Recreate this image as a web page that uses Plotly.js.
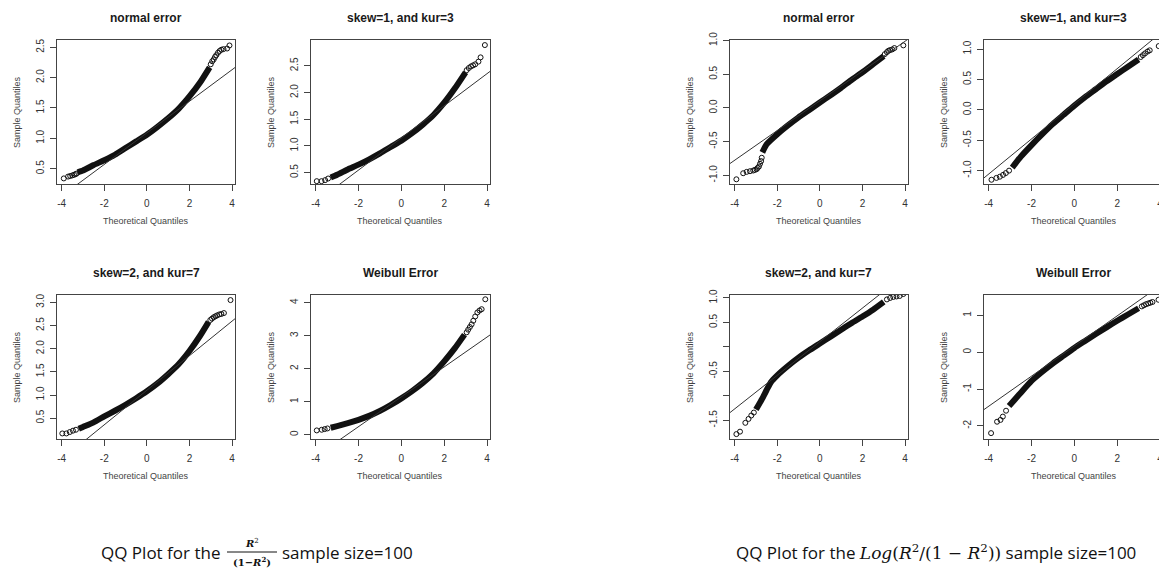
<!DOCTYPE html>
<html>
<head>
<meta charset="utf-8">
<script src="https://cdn.plot.ly/plotly-3.0.1.min.js"></script>
<style>
  html, body { margin: 0; padding: 0; overflow: hidden; background: #ffffff; }
  #chart { width: 1165px; height: 569px; }
</style>
</head>
<body>
<div id="chart"></div>
<script>
// ---------------- data ----------------
const panelTitles = [
  "normal error", "skew=1, and kur=3", "skew=2, and kur=7", "Weibull Error",
  "normal error", "skew=1, and kur=3", "skew=2, and kur=7", "Weibull Error"
];

const xTickVals = [-4, -2, 0, 2, 4];
const xTickText = ["-4", "-2", "0", "2", "4"];

// R^2/(1-R^2): normal error
const ratioNormBandX = [-3.25, -3.0, -2.5, -2.0, -1.5, -1.0, -0.5, 0, 0.5, 1.0, 1.5, 2.0, 2.5, 2.95];
const ratioNormBandY = [0.44, 0.47, 0.56, 0.64, 0.73, 0.84, 0.95, 1.06, 1.19, 1.33, 1.49, 1.69, 1.92, 2.17];
const ratioNormTailX = [-3.9, -3.7, -3.6, -3.5, -3.42, -3.35, -3.3, 3.0, 3.07, 3.14, 3.2, 3.26, 3.34, 3.42, 3.5, 3.6, 3.77, 3.88];
const ratioNormTailY = [0.34, 0.37, 0.38, 0.39, 0.40, 0.41, 0.42, 2.22, 2.27, 2.30, 2.34, 2.37, 2.41, 2.44, 2.46, 2.47, 2.48, 2.53];

// R^2/(1-R^2): skew=1, kur=3
const ratioSk1BandX = [-3.3, -3.0, -2.5, -2.0, -1.5, -1.0, -0.5, 0, 0.5, 1.0, 1.5, 2.0, 2.5, 3.0];
const ratioSk1BandY = [0.41, 0.46, 0.56, 0.65, 0.75, 0.86, 0.98, 1.10, 1.24, 1.40, 1.58, 1.81, 2.08, 2.38];
const ratioSk1TailX = [-3.95, -3.73, -3.56, -3.42, 3.05, 3.15, 3.25, 3.35, 3.45, 3.6, 3.7, 3.9];
const ratioSk1TailY = [0.34, 0.34, 0.36, 0.39, 2.42, 2.46, 2.49, 2.51, 2.53, 2.58, 2.66, 2.89];

// R^2/(1-R^2): skew=2, kur=7
const ratioSk2BandX = [-3.2, -3.0, -2.5, -2.0, -1.5, -1.0, -0.5, 0, 0.5, 1.0, 1.5, 2.0, 2.5, 2.9];
const ratioSk2BandY = [0.27, 0.31, 0.41, 0.54, 0.66, 0.79, 0.93, 1.08, 1.25, 1.45, 1.67, 1.95, 2.28, 2.58];
const ratioSk2TailX = [-3.97, -3.78, -3.62, -3.47, -3.33, 2.98, 3.06, 3.14, 3.22, 3.3, 3.4, 3.5, 3.62, 3.93];
const ratioSk2TailY = [0.17, 0.17, 0.20, 0.23, 0.25, 2.62, 2.65, 2.68, 2.70, 2.72, 2.74, 2.75, 2.77, 3.05];

// R^2/(1-R^2): Weibull error
const ratioWeiBandX = [-3.3, -3.0, -2.5, -2.0, -1.5, -1.0, -0.5, 0, 0.5, 1.0, 1.5, 2.0, 2.5, 2.95];
const ratioWeiBandY = [0.21, 0.26, 0.35, 0.45, 0.57, 0.72, 0.90, 1.10, 1.32, 1.57, 1.86, 2.22, 2.62, 3.03];
const ratioWeiTailX = [-3.95, -3.72, -3.58, -3.45, 3.05, 3.12, 3.2, 3.28, 3.36, 3.45, 3.55, 3.65, 3.75, 3.92];
const ratioWeiTailY = [0.13, 0.15, 0.17, 0.19, 3.10, 3.18, 3.26, 3.34, 3.45, 3.58, 3.70, 3.76, 3.80, 4.10];

// Log(R^2/(1-R^2)): normal error
const logNormBandX = [-2.7, -2.5, -2.0, -1.5, -1.0, -0.5, 0, 0.5, 1.0, 1.5, 2.0, 2.5, 3.0];
const logNormBandY = [-0.66, -0.54, -0.39, -0.26, -0.14, -0.03, 0.08, 0.19, 0.30, 0.42, 0.53, 0.65, 0.77];
const logNormTailX = [-3.92, -3.6, -3.44, -3.28, -3.13, -3.05, -2.97, -2.92, -2.86, -2.81, -2.76, -2.73, 3.05, 3.15, 3.22, 3.3, 3.4, 3.5, 3.92];
const logNormTailY = [-1.06, -0.97, -0.95, -0.94, -0.93, -0.92, -0.91, -0.89, -0.87, -0.83, -0.79, -0.74, 0.80, 0.83, 0.85, 0.86, 0.87, 0.89, 0.93];

// Log(R^2/(1-R^2)): skew=1, kur=3
const logSk1BandX = [-2.9, -2.5, -2.0, -1.5, -1.0, -0.5, 0, 0.5, 1.0, 1.5, 2.0, 2.5, 3.0];
const logSk1BandY = [-0.95, -0.77, -0.58, -0.40, -0.23, -0.08, 0.07, 0.21, 0.34, 0.47, 0.59, 0.71, 0.83];
const logSk1TailX = [-3.87, -3.64, -3.48, -3.33, -3.2, -3.05, 3.1, 3.2, 3.3, 3.42, 3.52, 3.94];
const logSk1TailY = [-1.15, -1.12, -1.10, -1.07, -1.04, -1.0, 0.87, 0.90, 0.93, 0.96, 0.98, 1.05];

// Log(R^2/(1-R^2)): skew=2, kur=7
const logSk2BandX = [-3.0, -2.7, -2.5, -2.3, -2.0, -1.5, -1.0, -0.5, 0, 0.5, 1.0, 1.5, 2.0, 2.5, 3.0];
const logSk2BandY = [-1.28, -1.05, -0.88, -0.72, -0.58, -0.39, -0.22, -0.07, 0.07, 0.21, 0.35, 0.49, 0.62, 0.76, 0.92];
const logSk2TailX = [-3.92, -3.75, -3.5, -3.35, -3.22, -3.1, 3.15, 3.3, 3.45, 3.6, 3.75, 3.92];
const logSk2TailY = [-1.78, -1.73, -1.55, -1.47, -1.40, -1.34, 0.97, 1.0, 1.02, 1.03, 1.04, 1.08];

// Log(R^2/(1-R^2)): Weibull error
const logWeiBandX = [-3.05, -2.7, -2.5, -2.0, -1.5, -1.0, -0.5, 0, 0.5, 1.0, 1.5, 2.0, 2.5, 3.0];
const logWeiBandY = [-1.46, -1.23, -1.10, -0.78, -0.53, -0.30, -0.09, 0.12, 0.31, 0.50, 0.68, 0.86, 1.03, 1.20];
const logWeiTailX = [-3.89, -3.61, -3.45, -3.34, -3.19, 3.15, 3.25, 3.35, 3.45, 3.55, 3.65, 3.93];
const logWeiTailY = [-2.2, -1.89, -1.84, -1.75, -1.59, 1.25, 1.28, 1.31, 1.33, 1.35, 1.37, 1.43];

// qqline parameters (intercept, slope) for each panel
const qqIntercept = [1.09, 1.15, 1.103, 1.148, 0.107, 0.10, 0.107, 0.172];
const qqSlope     = [0.26, 0.301, 0.373, 0.452, 0.221, 0.289, 0.343, 0.41];

// y axis ticks per panel (labelled ticks, plus unlabelled ones where labels would collide)
const yTickVals = [
  [0.5, 1.0, 1.5, 2.0, 2.5],
  [0.5, 1.0, 1.5, 2.0, 2.5],
  [0.5, 1.0, 1.5, 2.0, 2.5, 3.0],
  [0, 1, 2, 3, 4],
  [-1.0, -0.5, 0, 0.5, 1.0],
  [-1.0, -0.5, 0, 0.5, 1.0],
  [-1.5, -0.5, 0.5, 1.0],
  [-2, -1, 0, 1]
];
const yTickText = [
  ["0.5", "1.0", "1.5", "2.0", "2.5"],
  ["0.5", "1.0", "1.5", "2.0", "2.5"],
  ["0.5", "1.0", "1.5", "2.0", "2.5", "3.0"],
  ["0", "1", "2", "3", "4"],
  ["-1.0", "-0.5", "0.0", "0.5", "1.0"],
  ["-1.0", "-0.5", "0.0", "0.5", "1.0"],
  ["-1.5", "-0.5", "0.5", "1.0"],
  ["-2", "-1", "0", "1"]
];
const yBareTicks = [[], [], [], [], [], [], [-1.0, 0], []];

// ---------------- layout geometry (pixels) ----------------
const W = 1165, H = 569;
const yRanges = [
  [0.248, 2.62], [0.287, 2.985], [0.05, 3.16], [-0.13, 4.23],
  [-1.13, 1.01], [-1.22, 1.15], [-1.88, 1.06], [-2.36, 1.56]
];
const xRange = [-4.22, 4.14];
const boxes = [
  [57, 235, 40, 184], [311, 490, 40, 184], [57, 235, 295, 439], [311, 490, 295, 439],
  [730, 908, 40, 184], [984, 1163, 40, 184], [730, 908, 295, 439], [984, 1163, 295, 439]
];

const bands = [
  [ratioNormBandX, ratioNormBandY], [ratioSk1BandX, ratioSk1BandY],
  [ratioSk2BandX, ratioSk2BandY], [ratioWeiBandX, ratioWeiBandY],
  [logNormBandX, logNormBandY], [logSk1BandX, logSk1BandY],
  [logSk2BandX, logSk2BandY], [logWeiBandX, logWeiBandY]
];
const tails = [
  [ratioNormTailX, ratioNormTailY], [ratioSk1TailX, ratioSk1TailY],
  [ratioSk2TailX, ratioSk2TailY], [ratioWeiTailX, ratioWeiTailY],
  [logNormTailX, logNormTailY], [logSk1TailX, logSk1TailY],
  [logSk2TailX, logSk2TailY], [logWeiTailX, logWeiTailY]
];

const axisFont = { family: "Liberation Sans, Arial, sans-serif", size: 10, color: "#333" };
const traces = [];
const layout = {
  width: W, height: H,
  margin: { l: 0, r: 0, t: 0, b: 0 },
  paper_bgcolor: "#ffffff", plot_bgcolor: "#ffffff",
  showlegend: false,
  annotations: [],
  shapes: []
};

const px = v => v / W;
const py = v => 1 - v / H;

for (let i = 0; i < 8; i++) {
  const n = i === 0 ? "" : String(i + 1);
  const xa = "x" + n, ya = "y" + n;
  const [l, r, t, b] = boxes[i];

  // dense body of the sample quantiles
  traces.push({
    x: bands[i][0], y: bands[i][1], xaxis: xa, yaxis: ya,
    mode: "lines", hoverinfo: "skip",
    line: { color: "#111", width: 6, shape: "spline", smoothing: 0.5 }
  });
  // sparse tail observations
  traces.push({
    x: tails[i][0], y: tails[i][1], xaxis: xa, yaxis: ya,
    mode: "markers", hoverinfo: "skip", cliponaxis: true,
    marker: { symbol: "circle-open", size: 5, color: "#111", line: { width: 1, color: "#111" } }
  });
  // reference line through the quartiles
  traces.push({
    x: [-5, 5], y: [qqIntercept[i] - 5 * qqSlope[i], qqIntercept[i] + 5 * qqSlope[i]],
    xaxis: xa, yaxis: ya, mode: "lines", hoverinfo: "skip",
    line: { color: "#333", width: 1 }
  });

  layout["xaxis" + n] = {
    domain: [px(l), px(r)], range: xRange, anchor: ya,
    tickmode: "array", tickvals: xTickVals, ticktext: xTickText,
    ticks: "outside", ticklen: 6, tickwidth: 1, tickcolor: "#444",
    ticklabelstandoff: 4,
    showline: true, mirror: true, linecolor: "#444", linewidth: 1,
    showgrid: false, zeroline: false, tickfont: axisFont, fixedrange: true
  };
  const yax = {
    domain: [py(b), py(t)], range: yRanges[i], anchor: xa,
    tickmode: "array", tickvals: yTickVals[i], ticktext: yTickText[i],
    tickangle: -90,
    ticks: "outside", ticklen: 6, tickwidth: 1, tickcolor: "#444",
    ticklabelstandoff: 2,
    showline: true, mirror: true, linecolor: "#444", linewidth: 1,
    showgrid: false, zeroline: false, tickfont: axisFont, fixedrange: true
  };
  if (yBareTicks[i].length) {
    yax.minor = { tickmode: "array", tickvals: yBareTicks[i], ticks: "outside",
                  ticklen: 6, tickwidth: 1, tickcolor: "#444", showgrid: false };
  }
  layout["yaxis" + n] = yax;

  // panel title
  layout.annotations.push({
    xref: "paper", yref: "paper", x: px((l + r) / 2), y: py(t - 22),
    xanchor: "center", yanchor: "middle", showarrow: false,
    text: "<b>" + panelTitles[i] + "</b>",
    font: { family: "Liberation Sans, Arial, sans-serif", size: 12, color: "#1a1a1a" }
  });
  // axis titles
  layout.annotations.push({
    xref: "paper", yref: "paper", x: px((l + r) / 2), y: py(b + 37),
    xanchor: "center", yanchor: "middle", showarrow: false,
    text: "Theoretical Quantiles",
    font: { family: "Liberation Sans, Arial, sans-serif", size: 9, color: "#444" }
  });
  layout.annotations.push({
    xref: "paper", yref: "paper", x: px(l - 40), y: py((t + b) / 2),
    xanchor: "center", yanchor: "middle", showarrow: false, textangle: -90,
    text: "Sample Quantiles",
    font: { family: "Liberation Sans, Arial, sans-serif", size: 9, color: "#444" }
  });
}

// captions under each group
const captionFont = { family: "Open Sans, Noto Sans, sans-serif", size: 17, color: "#111" };
const mathFont = { family: "DejaVu Serif, Liberation Serif, serif", size: 10, color: "#111" };
layout.annotations.push({
  xref: "paper", yref: "paper", x: px(99), y: py(552), xanchor: "left", yanchor: "middle",
  showarrow: false, text: "QQ Plot for the", font: captionFont
});
layout.annotations.push({
  xref: "paper", yref: "paper", x: px(252), y: py(543), xanchor: "center", yanchor: "middle",
  showarrow: false, text: "<i><b>R</b></i><sup>2</sup>", font: mathFont
});
layout.annotations.push({
  xref: "paper", yref: "paper", x: px(252), y: py(561), xanchor: "center", yanchor: "middle",
  showarrow: false, text: "<b>(1−<i>R</i><sup>2</sup>)</b>", font: mathFont
});
layout.shapes.push({
  type: "line", xref: "paper", yref: "paper",
  x0: px(227), x1: px(277), y0: py(552), y1: py(552),
  line: { color: "#111", width: 1 }
});
layout.annotations.push({
  xref: "paper", yref: "paper", x: px(280), y: py(552), xanchor: "left", yanchor: "middle",
  showarrow: false, text: "sample size=100", font: captionFont
});
layout.annotations.push({
  xref: "paper", yref: "paper", x: px(734), y: py(552), xanchor: "left", yanchor: "middle",
  showarrow: false,
  text: "QQ Plot for the <span style=\"font-family:'DejaVu Serif', serif\"><i>Log</i>(<i>R</i><sup>2</sup>/(1 − <i>R</i><sup>2</sup>))</span> sample size=100",
  font: captionFont
});

Plotly.newPlot("chart", traces, layout, { staticPlot: true, displayModeBar: false });
</script>
</body>
</html>
